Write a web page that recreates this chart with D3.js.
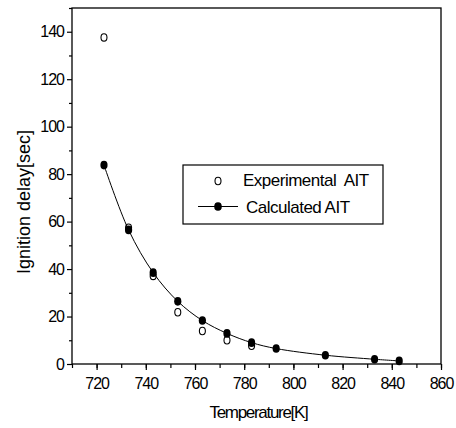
<!doctype html>
<html>
<head>
<meta charset="utf-8">
<script src="https://d3js.org/d3.v7.min.js"></script>
<style>
  body { margin: 0; background: #fff; }
  svg { display: block; font-family: "Liberation Sans", Arial, sans-serif; }
  .tick text { fill: #000; }
</style>
</head>
<body>
<div id="chart"></div>
<script>
// values
const calcTemps = [723, 733, 743, 753, 763, 773, 783, 793, 813, 833, 843];
const calcDelay = [83.8, 56.5, 38.5, 26.4, 18.3, 12.9, 9.0, 6.5, 3.7, 2.0, 1.3];
const expTemps = [723, 733, 743, 753, 763, 773, 783];
const expDelay = [137.6, 57.4, 37.1, 21.8, 13.9, 10.0, 7.7];
const xTicks = [720, 740, 760, 780, 800, 820, 840, 860];
const yTicks = [0, 20, 40, 60, 80, 100, 120, 140];
const legendLabels = ["Experimental  AIT", "Calculated AIT"];

const W = 456, H = 428;
const pLeft = 72, pTop = 8, pRight = 441, pBottom = 364;

const svg = d3.select('#chart').append('svg')
    .attr('width', W)
    .attr('height', H);

const x = d3.scaleLinear().domain([710, 860]).range([pLeft, pRight]);
const y = d3.scaleLinear().domain([0, 150]).range([pBottom, pTop]);

// minor ticks first
svg.append('g')
    .attr('transform', `translate(0,${pBottom})`)
    .call(d3.axisBottom(x).tickValues(d3.range(710, 861, 10)).tickSize(4).tickFormat(''));
svg.append('g')
    .attr('transform', `translate(${pLeft},0)`)
    .call(d3.axisLeft(y).tickValues(d3.range(10, 151, 20)).tickSize(3).tickFormat(''));

const xAxis = svg.append('g')
    .attr('transform', `translate(0,${pBottom})`)
    .call(d3.axisBottom(x).tickValues(xTicks).tickSize(6).tickPadding(8));
xAxis.selectAll('text')
    .style('font-size', '16px')
    .style('letter-spacing', '-1px');

const yAxis = svg.append('g')
    .attr('transform', `translate(${pLeft},0)`)
    .call(d3.axisLeft(y).tickValues(yTicks).tickSize(5).tickPadding(3));
yAxis.selectAll('text')
    .style('font-size', '16px')
    .style('letter-spacing', '-1px');

svg.selectAll('.domain').remove();
svg.selectAll('.tick line').attr('stroke', '#000').attr('stroke-width', 1.2);

// frame
svg.append('rect')
    .attr('x', pLeft).attr('y', pTop)
    .attr('width', pRight - pLeft).attr('height', pBottom - pTop)
    .attr('fill', 'none')
    .attr('stroke', '#000')
    .attr('stroke-width', 1.3);

// axis titles
svg.append('text')
    .attr('x', (pLeft + pRight) / 2 + 2)
    .attr('y', 418)
    .attr('text-anchor', 'middle')
    .style('font-size', '17px')
    .style('letter-spacing', '-1.3px')
    .text('Temperature[K]');

svg.append('text')
    .attr('transform', 'translate(30,202) rotate(-90)')
    .attr('text-anchor', 'middle')
    .style('font-size', '18px')
    .text('Ignition delay[sec]');

// calculated curve
const calc = calcTemps.map((t, i) => ({ t: t, v: calcDelay[i] }));
const exp = expTemps.map((t, i) => ({ t: t, v: expDelay[i] }));

svg.append('path')
    .datum(calc)
    .attr('fill', 'none')
    .attr('stroke', '#000')
    .attr('stroke-width', 1)
    .attr('d', d3.line().x(d => x(d.t)).y(d => y(d.v)).curve(d3.curveCatmullRom));

svg.selectAll('.calc')
    .data(calc)
    .enter()
    .append('ellipse')
    .attr('class', 'calc')
    .attr('cx', d => x(d.t))
    .attr('cy', d => y(d.v))
    .attr('rx', 3.6)
    .attr('ry', 4.3)
    .attr('fill', '#000');

svg.selectAll('.exp')
    .data(exp)
    .enter()
    .append('ellipse')
    .attr('class', 'exp')
    .attr('cx', d => x(d.t))
    .attr('cy', d => y(d.v))
    .attr('rx', 3)
    .attr('ry', 3.7)
    .attr('fill', 'none')
    .attr('stroke', '#000')
    .attr('stroke-width', 1.1);

// legend
const lg = svg.append('g');
lg.append('rect')
    .attr('x', 183).attr('y', 165)
    .attr('width', 200).attr('height', 59)
    .attr('fill', '#fff')
    .attr('stroke', '#000')
    .attr('stroke-width', 1.2);
lg.append('ellipse')
    .attr('cx', 218).attr('cy', 181)
    .attr('rx', 3).attr('ry', 3.7)
    .attr('fill', 'none').attr('stroke', '#000').attr('stroke-width', 1.1);
lg.append('line')
    .attr('x1', 198).attr('x2', 238)
    .attr('y1', 206.5).attr('y2', 206.5)
    .attr('stroke', '#000');
lg.append('ellipse')
    .attr('cx', 218).attr('cy', 206.5)
    .attr('rx', 3.8).attr('ry', 4.3)
    .attr('fill', '#000');
lg.selectAll('.lgtext')
    .data(legendLabels)
    .enter()
    .append('text')
    .attr('class', 'lgtext')
    .attr('x', (d, i) => i === 0 ? 243 : 246)
    .attr('y', (d, i) => i === 0 ? 186 : 213)
    .attr('xml:space', 'preserve')
    .style('white-space', 'pre')
    .style('font-size', '17px')
    .style('letter-spacing', '-0.5px')
    .text(d => d);
</script>
</body>
</html>
